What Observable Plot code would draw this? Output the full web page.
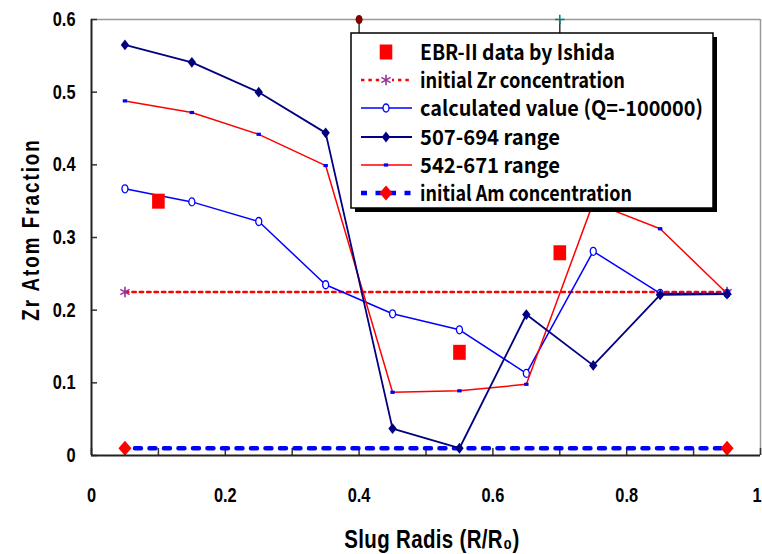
<!DOCTYPE html>
<html><head><meta charset="utf-8">
<script src="https://cdn.jsdelivr.net/npm/d3@7"></script>
<script src="https://cdn.jsdelivr.net/npm/@observablehq/plot@0.6"></script>
<style>
body{margin:0;background:#fff;}
#wrap{position:relative;width:762px;height:554px;overflow:hidden;}
#wrap svg{position:absolute;left:0;top:0;}
</style></head><body><div id="wrap"></div>
<script>
// ---- data ----
const radius = [0.05,0.15,0.25,0.35,0.45,0.55,0.65,0.75,0.85,0.95];
const calculated = [0.367,0.349,0.322,0.235,0.195,0.173,0.113,0.281,0.223,0.223];
const range507_694 = [0.565,0.541,0.500,0.444,0.037,0.010,0.194,0.124,0.221,0.222];
const range542_671 = [0.488,0.472,0.442,0.399,0.087,0.089,0.098,0.348,0.312,0.223];
const ebrX = [0.1,0.55,0.7];
const ebrY = [0.35,0.142,0.279];
const initialX = [0.05,0.95];
const initialZr = [0.225,0.225];
const initialAm = [0.01,0.01];
const topCircleX = [0.4];
const topPlusX = [0.7];
const topY = [0.6];
const xTicks = [0,0.1,0.2,0.3,0.4,0.5,0.6,0.7,0.8,0.9,1];
const xLabels = [0,0.2,0.4,0.6,0.8];
const xLastLabel = [1];
const yTicks = [0,0.1,0.2,0.3,0.4,0.5,0.6];
const yTitle = "Zr Atom Fraction";
const xTitle = "Slug Radis (R/R\u2080)";
const legendLabels = ["EBR-II data by Ishida","initial Zr concentration","calculated value (Q=-100000)","507-694 range","542-671 range","initial Am concentration"];

// ---- symbols ----
function diamond(hw, hh){return {draw(c){c.moveTo(0,-hh);c.lineTo(hw,0);c.lineTo(0,hh);c.lineTo(-hw,0);c.closePath();}};}
function ellipse(a, b){const k=0.5523;return {draw(c){c.moveTo(a,0);c.bezierCurveTo(a,b*k,a*k,b,0,b);c.bezierCurveTo(-a*k,b,-a,b*k,-a,0);c.bezierCurveTo(-a,-b*k,-a*k,-b,0,-b);c.bezierCurveTo(a*k,-b,a,-b*k,a,0);c.closePath();}};}
function rectSym(hw, hh){return {draw(c){c.moveTo(-hw,-hh);c.lineTo(hw,-hh);c.lineTo(hw,hh);c.lineTo(-hw,hh);c.closePath();}};}

const navyDiamond = diamond(4.2, 5.4);
const redDiamond = diamond(6.5, 7.5);
const openCircle = ellipse(3, 4);
const smallRect = rectSym(2.2, 1.6);
const ebrSquare = rectSym(6.3, 7.5);
const topCircle = ellipse(3.5, 4.5);

const axisFont = "'Liberation Sans',Arial,sans-serif";
const fmt = d => String(d);

const plot = Plot.plot({
  width: 762, height: 554,
  marginLeft: 91, marginRight: 2, marginTop: 19, marginBottom: 99,
  x: {domain: [0, 1]},
  y: {domain: [0, 0.6]},
  style: {fontFamily: axisFont, fontSize: "20px", fontWeight: "bold", color: "#000", background: "transparent", overflow: "visible"},
  marks: [
    // frame
    Plot.ruleY([0.6], {stroke: "#999", strokeWidth: 1.5}),
    Plot.ruleX([1], {stroke: "#999", strokeWidth: 1.5}),
    // inside ticks
    Plot.ruleY(yTicks, {x1: 0, x2: 0.009, stroke: "#333", strokeWidth: 1.5}),
    Plot.ruleX(xTicks, {y1: 0, y2: 0.0097, stroke: "#333", strokeWidth: 1.5}),
    Plot.axisX(xLabels, {tickSize: 0, tickPadding: 32, label: null, fontSize: 20, tickFormat: fmt}),
    Plot.axisX(xLastLabel, {tickSize: 0, tickPadding: 32, label: null, fontSize: 20, tickFormat: fmt, textAnchor: "end", dx: 1}),
    Plot.axisY(yTicks, {tickSize: 0, tickPadding: 16, label: null, fontSize: 20, tickFormat: fmt}),
    Plot.text([yTitle], {frameAnchor: "left", textAnchor: "middle", dx: -60, dy: -8, rotate: -90, fontSize: 23, fontWeight: "bold"}),
    Plot.text([xTitle], {frameAnchor: "bottom", textAnchor: "middle", dx: 6, dy: 84, fontSize: 25, fontWeight: "bold", lineAnchor: "middle"}),
    // top stray markers
    Plot.ruleX(topCircleX.concat(topPlusX), {y1: 0.6, y2: 0.55, stroke: "#333", strokeWidth: 1.5}),
    Plot.dot(topCircleX, {x: topCircleX, y: topY, symbol: topCircle, r: 4, fill: "#800000", stroke: "none"}),
    Plot.dot(topPlusX, {x: topPlusX, y: topY, symbol: "plus", r: 3.2, stroke: "#008080", strokeWidth: 1.5}),
    // initial Am
    Plot.line(initialAm, {x: initialX, y: initialAm, stroke: "#0000ff", strokeWidth: 4.5, strokeDasharray: "6,8.5", strokeDashoffset: -10}),
    // initial Zr
    Plot.line(initialZr, {x: initialX, y: initialZr, stroke: "#ff0000", strokeWidth: 2.5, strokeDasharray: "3.4,4"}),
    Plot.dot(initialZr, {x: initialX, y: initialZr, symbol: "asterisk", r: 5, stroke: "#993399", strokeWidth: 1.6}),
    // calculated
    Plot.line(calculated, {x: radius, y: calculated, stroke: "#0000ff", strokeWidth: 1.5}),
    Plot.dot(calculated, {x: radius, y: calculated, symbol: openCircle, r: 4, stroke: "#0000ff", fill: "#fff", strokeWidth: 1.3}),
    // 542-671
    Plot.line(range542_671, {x: radius, y: range542_671, stroke: "#ff0000", strokeWidth: 1.5}),
    Plot.dot(range542_671, {x: radius, y: range542_671, symbol: smallRect, r: 2, fill: "#0000ff", stroke: "none"}),
    // 507-694
    Plot.line(range507_694, {x: radius, y: range507_694, stroke: "#000080", strokeWidth: 1.8}),
    Plot.dot(range507_694, {x: radius, y: range507_694, symbol: navyDiamond, r: 4, fill: "#000080", stroke: "none"}),
    // Am markers
    Plot.dot(initialAm, {x: initialX, y: initialAm, symbol: redDiamond, r: 6, fill: "#ff0000", stroke: "none"}),
    // EBR-II data
    Plot.dot(ebrY, {x: ebrX, y: ebrY, symbol: ebrSquare, r: 6, fill: "#ff0000", stroke: "none"}),
    // axes lines
    Plot.ruleY([0], {stroke: "#222", strokeWidth: 2}),
    Plot.ruleX([0], {stroke: "#222", strokeWidth: 2})
  ]
});
// condense the axis lettering (narrow bold face) and space out the titles
d3.select(plot).selectAll("text").each(function(){
  const t = this.getAttribute("transform") || "";
  this.setAttribute("transform", (t + " scale(0.82,1)").trim());
  if (this.textContent === yTitle) this.style.letterSpacing = "2.4px";
  if (this.textContent === xTitle) this.style.letterSpacing = "0.4px";
});
const wrap = document.getElementById("wrap");
wrap.appendChild(plot);

// ---- legend overlay ----
const L = d3.select(wrap).append("svg").attr("width", 762).attr("height", 554).style("pointer-events","none");
const bx = 351, by = 33, bw = 362, bh = 175;
L.append("rect").attr("x", bx+4).attr("y", by+4).attr("width", bw).attr("height", bh).attr("fill", "#000");
L.append("rect").attr("x", bx).attr("y", by).attr("width", bw).attr("height", bh).attr("fill", "#fff").attr("stroke", "#000").attr("stroke-width", 1.5);
const rowY = [52, 80, 108, 137, 165, 193];
const sx0 = 361, sx1 = 412, sc = 386;
const textWidths = [195, 205, 283, 140, 140, 212];
function pathOf(s){const p = d3.path(); s.draw(p, 1); return p.toString();}
function sym(s, y, attrs){const p = L.append("path").attr("d", pathOf(s)).attr("transform", `translate(${sc},${y})`); for (const k in attrs) p.attr(k, attrs[k]); return p;}
function seg(y, attrs){const l = L.append("line").attr("x1", sx0).attr("x2", sx1).attr("y1", y).attr("y2", y); for (const k in attrs) l.attr(k, attrs[k]);}
// row 1
sym(ebrSquare, rowY[0], {fill: "#ff0000"});
// row 2
seg(rowY[1], {stroke: "#ff0000", "stroke-width": 2.5, "stroke-dasharray": "3.4,4"});
L.append("rect").attr("x", sc-6).attr("y", rowY[1]-6).attr("width", 12).attr("height", 12).attr("fill", "#fff");
L.append("path").attr("d", d3.symbol(d3.symbolAsterisk, 25*Math.PI)()).attr("transform", `translate(${sc},${rowY[1]})`).attr("stroke", "#993399").attr("stroke-width", 1.6).attr("fill", "none");
// row 3
seg(rowY[2], {stroke: "#0000ff", "stroke-width": 1.5});
sym(openCircle, rowY[2], {stroke: "#0000ff", fill: "#fff", "stroke-width": 1.3});
// row 4
seg(rowY[3], {stroke: "#000080", "stroke-width": 1.8});
sym(navyDiamond, rowY[3], {fill: "#000080"});
// row 5
seg(rowY[4], {stroke: "#ff0000", "stroke-width": 1.5});
sym(smallRect, rowY[4], {fill: "#0000ff"});
// row 6
seg(rowY[5], {stroke: "#0000ff", "stroke-width": 4.5, "stroke-dasharray": "6,8.5"});
sym(redDiamond, rowY[5], {fill: "#ff0000"});
// texts
L.selectAll("text.leg").data(legendLabels).join("text")
  .attr("class", "leg")
  .attr("x", 420).attr("y", (d, i) => rowY[i]).attr("dy", "0.36em")
  .attr("textLength", (d, i) => textWidths[i]).attr("lengthAdjust", "spacingAndGlyphs")
  .style("font-family", "'Noto Sans CJK KR','Noto Sans',sans-serif")
  .style("font-weight", "bold").style("font-size", "21px").attr("fill", "#000")
  .text(d => d);
</script></body></html>
